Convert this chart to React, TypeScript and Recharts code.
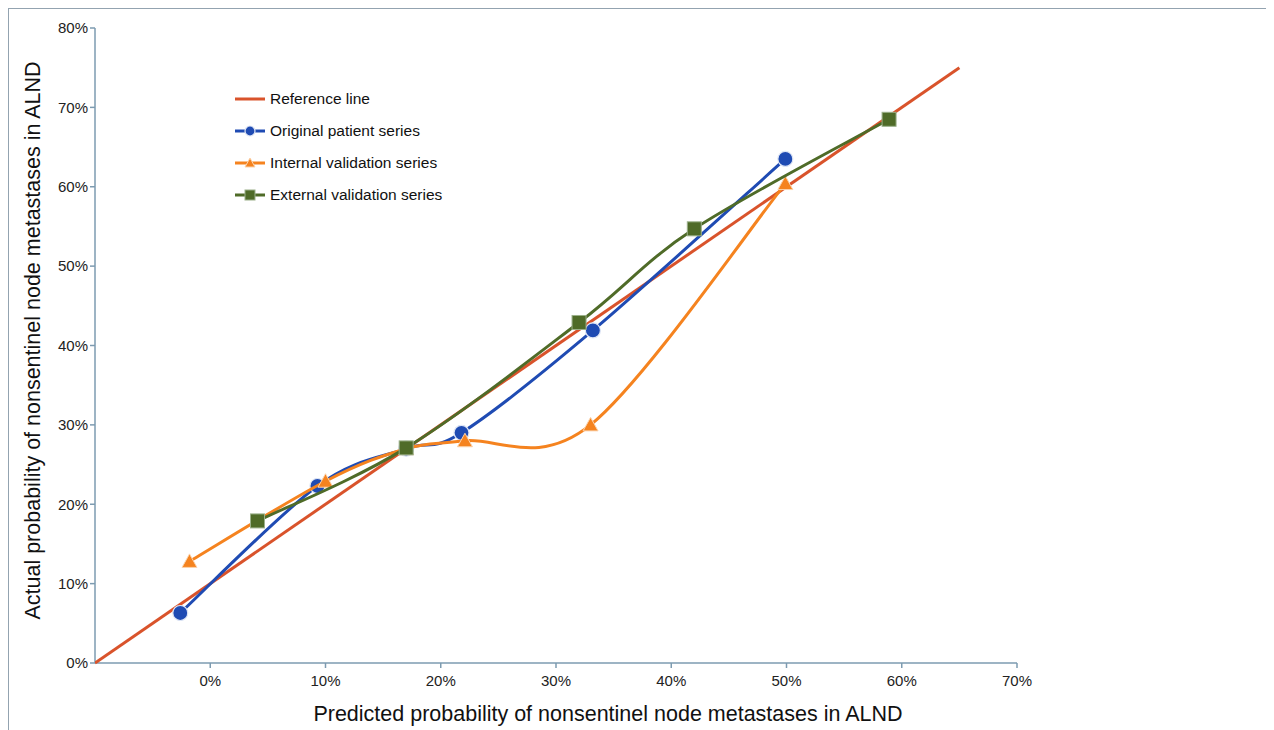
import React from "react";
import { ScatterChart, Scatter, XAxis, YAxis, Legend, Label } from "recharts";

const xTicks = [0, 10, 20, 30, 40, 50, 60, 70];
const yTicks = [0, 10, 20, 30, 40, 50, 60, 70, 80];

const referenceLine = [
  { x: -10, y: 0 },
  { x: 65, y: 75 },
];

const originalSeries = [
  { x: -2.6, y: 6.3 },
  { x: 9.3, y: 22.3 },
  { x: 17, y: 27 },
  { x: 21.8, y: 29.0 },
  { x: 33.2, y: 41.9 },
  { x: 49.9, y: 63.5 },
];

const internalSeries = [
  { x: -1.8, y: 12.8 },
  { x: 10, y: 22.9 },
  { x: 17, y: 27 },
  { x: 22.1, y: 28.0 },
  { x: 33.0, y: 30.0 },
  { x: 49.9, y: 60.4 },
];

const externalSeries = [
  { x: 4.1, y: 17.9 },
  { x: 17, y: 27.1 },
  { x: 32, y: 42.9 },
  { x: 42, y: 54.7 },
  { x: 58.9, y: 68.5 },
];

const RED = "#d9532b";
const BLUE = "#1f4bb3";
const ORANGE = "#f5831f";
const GREEN = "#4f6b28";
const AXIS = "#7d9bb0";

// excel-like smoothing (catmull-rom through the points)
function smoothCurve(context: any) {
  let pts: number[][] = [];
  return {
    areaStart() {},
    areaEnd() {},
    lineStart() {
      pts = [];
    },
    point(x: number, y: number) {
      pts.push([+x, +y]);
    },
    lineEnd() {
      if (!pts.length) return;
      context.moveTo(pts[0][0], pts[0][1]);
      for (let i = 0; i < pts.length - 1; i++) {
        const p0 = pts[i - 1] || pts[i];
        const p1 = pts[i];
        const p2 = pts[i + 1];
        const p3 = pts[i + 2] || p2;
        context.bezierCurveTo(
          p1[0] + (p2[0] - p0[0]) / 6,
          p1[1] + (p2[1] - p0[1]) / 6,
          p2[0] - (p3[0] - p1[0]) / 6,
          p2[1] - (p3[1] - p1[1]) / 6,
          p2[0],
          p2[1]
        );
      }
    },
  };
}

const Dot = ({ cx, cy, r = 7.5 }: any) => (
  <circle cx={cx} cy={cy} r={r} fill={BLUE} stroke="#dfe6f5" strokeWidth={1.2} />
);

const Tri = ({ cx, cy, s = 7.5 }: any) => (
  <path
    d={`M${cx},${cy - s} L${cx + s},${cy + s * 0.8} L${cx - s},${cy + s * 0.8} Z`}
    fill={ORANGE}
    stroke="#fbd3ad"
    strokeWidth={1}
  />
);

const Sq = ({ cx, cy, s = 7 }: any) => (
  <rect x={cx - s} y={cy - s} width={s * 2} height={s * 2} fill={GREEN} stroke="#9bb08a" strokeWidth={1} />
);

const legendItems = [
  { name: "Reference line", color: RED, marker: null },
  { name: "Original patient series", color: BLUE, marker: "dot" },
  { name: "Internal validation series", color: ORANGE, marker: "tri" },
  { name: "External validation series", color: GREEN, marker: "sq" },
];

const LegendBox = () => (
  <div style={{ fontSize: 15.5, color: "#111" }}>
    {legendItems.map((it) => (
      <div key={it.name} style={{ display: "flex", alignItems: "center", height: 32 }}>
        <svg width={30} height={16} style={{ marginRight: 5 }}>
          <line x1={0} y1={8} x2={30} y2={8} stroke={it.color} strokeWidth={3} />
          {it.marker === "dot" && <Dot cx={15} cy={8} r={5} />}
          {it.marker === "tri" && <Tri cx={15} cy={8} s={5} />}
          {it.marker === "sq" && <Sq cx={15} cy={8} s={5} />}
        </svg>
        <span>{it.name}</span>
      </div>
    ))}
  </div>
);

export default function App() {
  return (
    <div style={{ position: "relative", fontFamily: "'Liberation Sans', Arial, sans-serif" }}>
      <style>{"html,body{overflow:hidden}"}</style>
      <div
        style={{
          position: "absolute",
          left: 0,
          top: 0,
          right: -20,
          bottom: -20,
          borderTop: "1.5px solid #93a3b0",
          borderLeft: "1.5px solid #93a3b0",
          pointerEvents: "none",
        }}
      />
      <ScatterChart width={1258} height={722} margin={{ top: 20, right: 249, left: 27, bottom: 37 }}>
        <XAxis
          type="number"
          dataKey="x"
          domain={[-10, 70]}
          ticks={xTicks}
          allowDataOverflow
          tickFormatter={(v: number) => `${v}%`}
          stroke={AXIS}
          strokeWidth={1.5}
          tickSize={5}
          tickMargin={7}
          height={30}
          tick={{ fill: "#222", fontSize: 15 }}
        >
          <Label
            content={({ viewBox }: any) => (
              <text
                x={viewBox.x + viewBox.width / 2 + 52}
                y={viewBox.y + viewBox.height + 21}
                textAnchor="middle"
                dominantBaseline="central"
                fontSize={21.5}
                fill="#111"
              >
                Predicted probability of nonsentinel node metastases in ALND
              </text>
            )}
          />
        </XAxis>
        <YAxis
          type="number"
          dataKey="y"
          domain={[0, 80]}
          ticks={yTicks}
          tickFormatter={(v: number) => `${v}%`}
          stroke={AXIS}
          strokeWidth={1.5}
          tickSize={5}
          tickMargin={2}
          width={60}
          tick={{ fill: "#222", fontSize: 15 }}
        >
          <Label
            content={({ viewBox }: any) => {
              const cx = viewBox.x - 2;
              const cy = viewBox.y + viewBox.height / 2 - 5;
              return (
                <text
                  x={cx}
                  y={cy}
                  transform={`rotate(-90 ${cx} ${cy})`}
                  textAnchor="middle"
                  dominantBaseline="central"
                  fontSize={21.5}
                  fill="#111"
                >
                  Actual probability of nonsentinel node metastases in ALND
                </text>
              );
            }}
          />
        </YAxis>
        <Legend
          layout="vertical"
          align="center"
          verticalAlign="middle"
          content={() => <LegendBox />}
          wrapperStyle={{ left: 227, top: 75, width: "auto", right: "auto", bottom: "auto" }}
        />
        <Scatter
          name="Reference line"
          data={referenceLine}
          line={{ stroke: RED, strokeWidth: 3 }}
          shape={() => <g />}
          isAnimationActive={false}
        />
        <Scatter
          name="Original patient series"
          data={originalSeries}
          line={{ stroke: BLUE, strokeWidth: 3 }}
          lineJointType={smoothCurve as any}
          shape={(p: any) => <Dot cx={p.cx} cy={p.cy} />}
          isAnimationActive={false}
        />
        <Scatter
          name="Internal validation series"
          data={internalSeries}
          line={{ stroke: ORANGE, strokeWidth: 3 }}
          lineJointType={smoothCurve as any}
          shape={(p: any) => <Tri cx={p.cx} cy={p.cy} />}
          isAnimationActive={false}
        />
        <Scatter
          name="External validation series"
          data={externalSeries}
          line={{ stroke: GREEN, strokeWidth: 3 }}
          lineJointType={smoothCurve as any}
          shape={(p: any) => <Sq cx={p.cx} cy={p.cy} />}
          isAnimationActive={false}
        />
      </ScatterChart>
    </div>
  );
}
